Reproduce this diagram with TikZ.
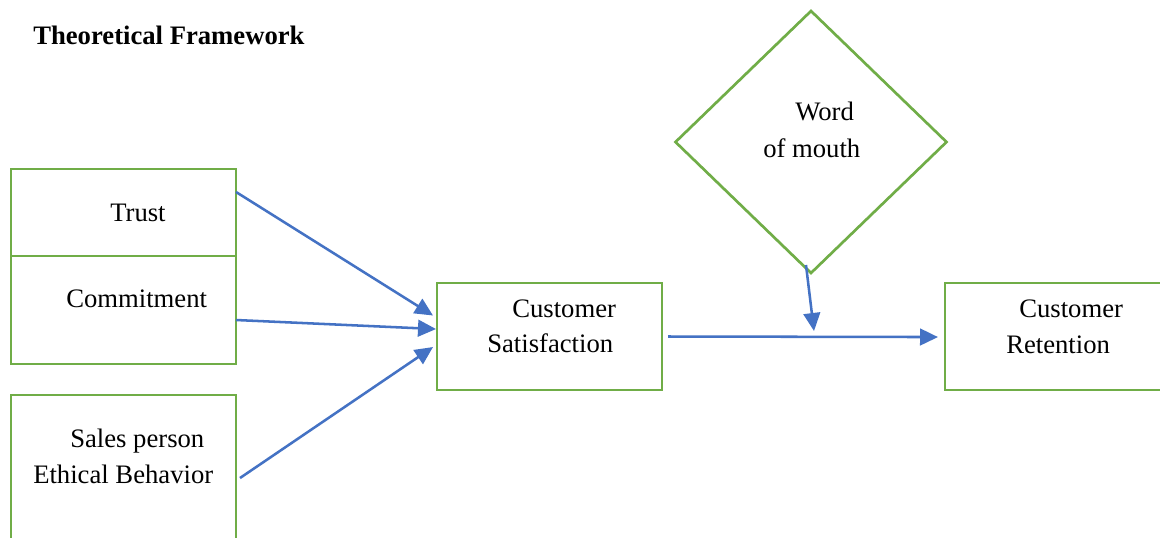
\documentclass[tikz,border=0pt]{standalone}
\usepackage{fontspec}
\setmainfont{Liberation Serif}
\usetikzlibrary{shapes.geometric,arrows.meta,calc}
\definecolor{boxgreen}{HTML}{70AD47}
\definecolor{linkblue}{HTML}{4472C4}
\begin{document}
\begin{tikzpicture}[x=0.75pt,y=-0.75pt,
  box/.style={draw=boxgreen,line width=2pt,inner sep=0pt,outer sep=0pt},
  txt/.style={anchor=base west,inner sep=0pt,font=\fontsize{20}{26}\selectfont},
  link/.style={draw=linkblue,line width=1.9pt,-{Triangle[length=13.5pt,width=12.5pt]}}]
\clip (0,0) rectangle (1160,537);
\fill[white] (0,0) rectangle (1160,537);

% title
\node[txt,font=\fontsize{20}{26}\selectfont\bfseries] (title) at (33,44) {Theoretical Framework};

% antecedent boxes
\node[box,minimum width=168.75pt,minimum height=65.25pt] (trust) at (123.5,212.5) {};
\node[box,minimum width=168.75pt,minimum height=81pt] (commit) at (123.5,310) {};
\node[box,minimum width=168.75pt,minimum height=123.75pt] (sales) at (123.5,477.5) {};
\node[txt] (trusttxt) at (110,221) {Trust};
\node[txt] (committxt) at (66,307) {Commitment};
\node[txt] (salestxta) at (70,447) {Sales person};
\node[txt] (salestxtb) at (33,483) {Ethical Behavior};

% mediator and outcome
\node[box,minimum width=168.75pt,minimum height=80.25pt] (cs) at (549.5,336.5) {};
\node[txt] (cstxta) at (512,317) {Customer};
\node[txt] (cstxtb) at (487,352) {Satisfaction};
\node[box,minimum width=168.75pt,minimum height=80.25pt] (cr) at (1057.5,336.5) {};
\node[txt] (crtxta) at (1019,317) {Customer};
\node[txt] (crtxtb) at (1006,353) {Retention};

% moderator
\node[box,diamond,minimum width=203.25pt,minimum height=196.5pt] (wom) at (811,142) {};
\node[txt] (womtxta) at (795,120) {Word};
\node[txt] (womtxtb) at (763,157) {of mouth};

% relationships
\draw[link] ([yshift=15.4pt]trust.east) -- ([xshift=-3pt,yshift=15.75pt]cs.west);
\draw[link] ([yshift=-7.5pt]commit.east) -- ([xshift=-0.75pt,yshift=5.6pt]cs.west);
\draw[link] ([xshift=3pt,yshift=-62.25pt]sales.north east) -- ([xshift=-3pt,yshift=-7.9pt]cs.west);
\draw[link] ([xshift=4.5pt]cs.east) -- ([xshift=-5.25pt,yshift=-0.4pt]cr.west);
\coordinate (join) at (814,331);
\draw[link] ([xshift=-3.75pt,yshift=6pt]wom.south) -- (join);
\end{tikzpicture}
\end{document}
